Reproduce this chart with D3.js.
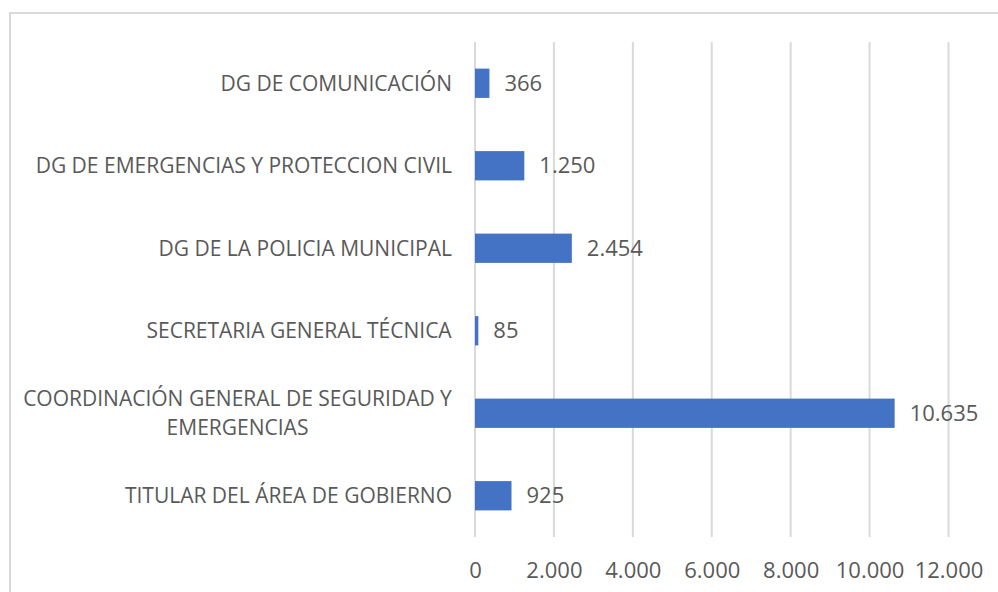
<!DOCTYPE html>
<html>
<head>
<meta charset="utf-8">
<script src="https://d3js.org/d3.v7.min.js"></script>
<style>
  body { margin: 0; background: #fff; }
  svg text { font-family: "Open Sans", "Segoe UI", sans-serif; fill: #595959; }
</style>
</head>
<body>
<svg id="chart" width="998" height="592"></svg>
<script>
// data, top to bottom as drawn
var categories = [
  ["DG DE COMUNICACIÓN"],
  ["DG DE EMERGENCIAS Y PROTECCION CIVIL"],
  ["DG DE LA POLICIA MUNICIPAL"],
  ["SECRETARIA GENERAL TÉCNICA"],
  ["COORDINACIÓN GENERAL DE SEGURIDAD Y", "EMERGENCIAS"],
  ["TITULAR DEL ÁREA DE GOBIERNO"]
];
var values = [366, 1250, 2454, 85, 10635, 925];
var xTicks = [0, 2000, 4000, 6000, 8000, 10000, 12000];

var svg = d3.select("#chart"),
    margin = {top: 42, right: 50, bottom: 55, left: 475},
    width = +svg.attr("width"),
    height = +svg.attr("height");

var es = d3.formatLocale({decimal: ",", thousands: ".", grouping: [3], currency: ["", " €"]});
var fmt = es.format(",d");

// outer frame
svg.append("rect")
    .attr("x", 10).attr("y", 13)
    .attr("width", width).attr("height", height)
    .attr("fill", "none")
    .attr("stroke", "#d9d9d9")
    .attr("stroke-width", 2);

var x = d3.scaleLinear().domain([0, 12000]).range([margin.left, 948.5]);
var y = d3.scaleBand()
    .domain(d3.range(categories.length))
    .range([margin.top, 537])
    .paddingInner(0.645)
    .paddingOuter(0.3225);

// gridlines
svg.append("g").selectAll("line")
    .data(xTicks)
  .enter().append("line")
    .attr("x1", function(d) { return x(d); })
    .attr("x2", function(d) { return x(d); })
    .attr("y1", margin.top)
    .attr("y2", 537)
    .attr("stroke", "#d9d9d9")
    .attr("stroke-width", 2);

// x axis labels
var xAxis = svg.append("g")
    .attr("transform", "translate(0,537)")
    .call(d3.axisBottom(x).tickValues(xTicks).tickFormat(fmt).tickSize(0).tickPadding(25));
xAxis.select(".domain").remove();
xAxis.selectAll("text")
    .attr("font-size", 22)
    .attr("fill", "#595959")
    .attr("font-family", "'Open Sans', sans-serif");

// bars
svg.append("g").selectAll("rect")
    .data(values)
  .enter().append("rect")
    .attr("x", x(0))
    .attr("y", function(d, i) { return y(i); })
    .attr("width", function(d) { return x(d) - x(0); })
    .attr("height", y.bandwidth())
    .attr("fill", "#4472c4");

// value labels
svg.append("g").selectAll("text")
    .data(values)
  .enter().append("text")
    .attr("x", function(d) { return x(d) + 15; })
    .attr("y", function(d, i) { return y(i) + y.bandwidth() / 2; })
    .attr("dy", "0.35em")
    .attr("font-size", 22)
    .text(function(d) { return fmt(d); });

// category labels (multi-line ones are centred within their block)
var lineH = 29;
var labels = svg.append("g").selectAll("text")
    .data(categories)
  .enter().append("text")
    .attr("font-size", 21)
    .attr("text-anchor", "middle");

labels.each(function(lines, i) {
  var t = d3.select(this);
  var cy = y(i) + y.bandwidth() / 2;
  lines.forEach(function(s, j) {
    t.append("tspan")
      .attr("x", 0)
      .attr("y", cy + (j - (lines.length - 1) / 2) * lineH)
      .attr("dy", "0.35em")
      .text(s);
  });
  // right-align the block at x = 452
  var w = this.getBBox().width;
  t.selectAll("tspan").attr("x", 452 - w / 2);
});
</script>
</body>
</html>
